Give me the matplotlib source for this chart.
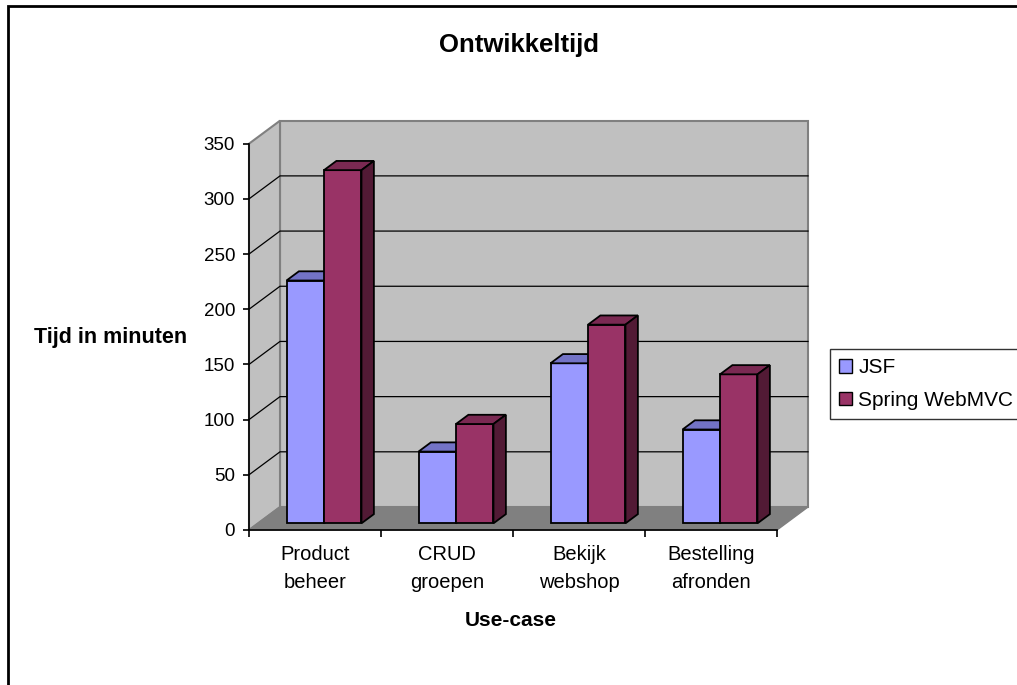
import matplotlib
matplotlib.use("Agg")
import matplotlib.pyplot as plt
from matplotlib.patches import Polygon, Rectangle, Patch

plt.rcParams['font.family'] = ['Liberation Sans', 'DejaVu Sans']

# data
categorieen = ['Product\nbeheer', 'CRUD\ngroepen', 'Bekijk\nwebshop', 'Bestelling\nafronden']
series = ['JSF', 'Spring WebMVC']
jsf = [220, 65, 145, 85]
spring = [320, 90, 180, 135]
y_ticks = [0, 50, 100, 150, 200, 250, 300, 350]

kleur_front = ['#9999FF', '#993366']
kleur_top = ['#7373C6', '#7A2952']
kleur_zij = ['#5C5C99', '#521A35']

W, H = 1017, 685
fig = plt.figure(figsize=(W / 100, H / 100), dpi=100)

# plot area = front plane of the 3d box (pixels measured from reference)
left, right, bottom, top = 249, 777, 530, 143.7
ax = fig.add_axes([left / W, 1 - bottom / H, (right - left) / W, (bottom - top) / H])
n = len(categorieen)
ymax = y_ticks[-1]
ax.set_xlim(0, n)
ax.set_ylim(0, ymax)

# oblique depth offset in data units
px_x = (right - left) / n
px_y = (bottom - top) / ymax
DX = 31 / px_x
DY = 23 / px_y

def poly(pts, fc, ec, lw, z):
    ax.add_patch(Polygon(pts, closed=True, facecolor=fc, edgecolor=ec,
                         linewidth=lw, zorder=z, clip_on=False))

# walls and floor
poly([(DX, DY), (n + DX, DY), (n + DX, ymax + DY), (DX, ymax + DY)], '#C0C0C0', '#808080', 1.5, 1)
poly([(0, 0), (DX, DY), (DX, ymax + DY), (0, ymax)], '#C0C0C0', '#808080', 1.5, 1)
poly([(0, 0), (n, 0), (n + DX, DY), (DX, DY)], '#808080', '#808080', 1.0, 1)

# gridlines on side wall and back wall
for v in y_ticks[1:-1]:
    ax.plot([0, DX, n + DX], [v, v + DY, v + DY], color='black', lw=0.9,
            zorder=1.5, clip_on=False)

# bars
bw = 0.284
f0, f1 = 0.29, 0.40
for i in range(n):
    for s, vals in enumerate([jsf, spring]):
        x0 = i + 0.5 - bw + s * bw + f0 * DX
        x1 = x0 + bw
        y0 = f0 * DY
        y1 = y0 + vals[i]
        ddx, ddy = f1 * DX, f1 * DY
        z = 3 + i * 2 + s
        poly([(x0, y0), (x1, y0), (x1, y1), (x0, y1)], kleur_front[s], 'black', 1.3, z)
        poly([(x0, y1), (x1, y1), (x1 + ddx, y1 + ddy), (x0 + ddx, y1 + ddy)], kleur_top[s], 'black', 1.3, z)
        poly([(x1, y0), (x1 + ddx, y0 + ddy), (x1 + ddx, y1 + ddy), (x1, y1)], kleur_zij[s], 'black', 1.3, z)

# axes
for sp in ['top', 'right']:
    ax.spines[sp].set_visible(False)
for sp in ['left', 'bottom']:
    ax.spines[sp].set_linewidth(1.2)
    ax.spines[sp].set_zorder(20)
ax.set_facecolor('none')
ax.set_yticks(y_ticks)
ax.tick_params(axis='y', direction='out', length=4, width=1.2, pad=6, labelsize=13.5)
ax.set_xticks(range(n + 1))
ax.set_xticklabels([])
ax.set_xticks([i + 0.5 for i in range(n)], minor=True)
ax.set_xticklabels(categorieen, minor=True, fontsize=14.5, linespacing=1.55)
ax.tick_params(axis='x', which='major', direction='out', length=5, width=1.2)
ax.tick_params(axis='x', which='minor', length=0, pad=11)

# titles
fig.text(519 / W, 1 - 45 / H, 'Ontwikkeltijd', ha='center', va='center',
         fontsize=18.5, fontweight='bold')
fig.text(111 / W, 1 - 338 / H, 'Tijd in minuten', ha='center', va='center',
         fontsize=15.5, fontweight='bold')
fig.text(511 / W, 1 - 620 / H, 'Use-case', ha='center', va='center',
         fontsize=15, fontweight='bold')

# legend
handles = [Patch(facecolor=kleur_front[k], edgecolor='black', linewidth=1.0, label=series[k])
           for k in range(2)]
fig.legend(handles=handles, loc='upper left', bbox_to_anchor=(830 / W, 1 - 349 / H),
           fontsize=15, frameon=True, fancybox=False, edgecolor='black',
           handlelength=0.6, handleheight=0.6, handletextpad=0.3,
           borderpad=0.45, labelspacing=0.65, borderaxespad=0)

# chart border
fig.patches.append(Rectangle((8 / W, -0.1), 1.2, 1.1 - 6 / H, transform=fig.transFigure,
                             fill=False, edgecolor='black', linewidth=2))

fig.savefig('out.png', dpi=100)
